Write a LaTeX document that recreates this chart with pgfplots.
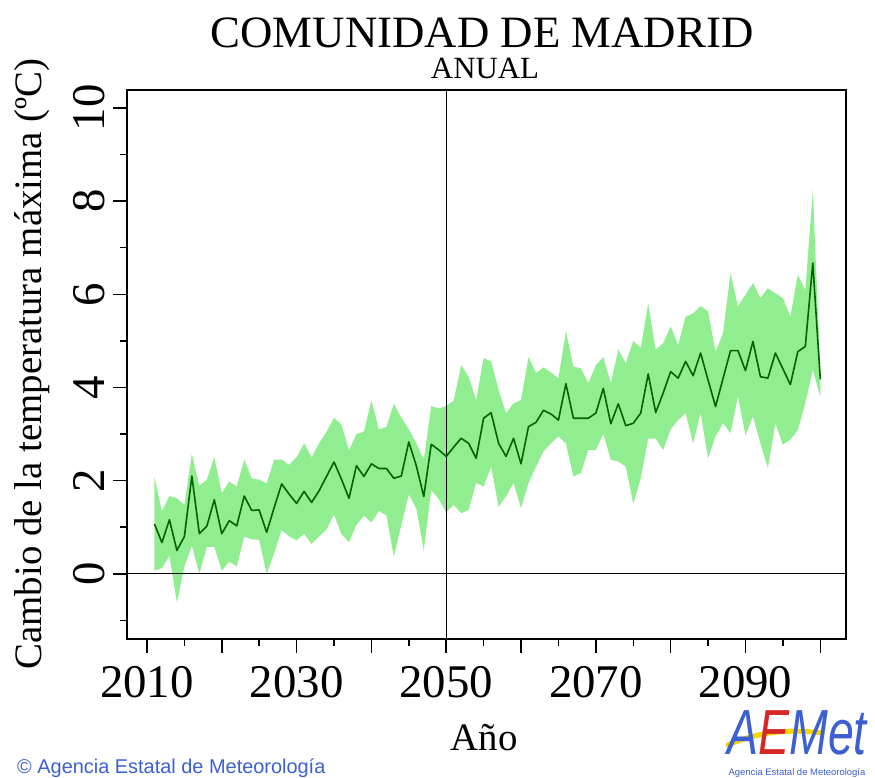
\documentclass[border=0pt]{standalone}
\usepackage{fontspec}
\setmainfont{Liberation Serif}
\newfontfamily\sansf{Liberation Sans}
\usepackage{pgfplots}
\usepackage{pgfplotstable}
\pgfplotsset{compat=1.18}
\usepgfplotslibrary{fillbetween}
\definecolor{bandgreen}{RGB}{144,238,144}
\definecolor{linegreen}{RGB}{0,100,0}
\definecolor{aemetblue}{RGB}{60,95,210}
\definecolor{aemetred}{RGB}{214,40,40}
\definecolor{aemetyellow}{RGB}{250,210,0}

\pgfplotstableread{
year mean upper lower
2011 1.07 2.07 0.07
2012 0.67 1.34 0.12
2013 1.16 1.67 0.39
2014 0.50 1.62 -0.62
2015 0.80 1.48 0.16
2016 2.10 2.57 0.60
2017 0.86 1.89 0.00
2018 1.02 2.02 0.58
2019 1.59 2.50 0.58
2020 0.86 1.73 0.07
2021 1.14 1.98 0.26
2022 1.03 1.87 0.16
2023 1.67 2.45 0.80
2024 1.36 2.05 0.74
2025 1.37 2.02 0.73
2026 0.89 1.94 0.00
2027 1.42 2.45 0.44
2028 1.93 2.45 0.94
2029 1.71 2.34 0.80
2030 1.51 2.50 0.72
2031 1.77 2.80 0.86
2032 1.53 2.50 0.64
2033 1.78 2.80 0.80
2034 2.09 3.05 0.95
2035 2.40 3.35 1.27
2036 2.03 3.20 0.85
2037 1.62 2.65 0.68
2038 2.32 3.00 1.05
2039 2.09 3.05 1.25
2040 2.36 3.72 1.10
2041 2.26 3.10 1.35
2042 2.26 3.15 1.25
2043 2.05 3.65 0.37
2044 2.10 3.35 1.05
2045 2.83 3.10 1.70
2046 2.32 2.80 1.40
2047 1.66 2.45 0.50
2048 2.78 3.60 1.80
2049 2.66 3.55 1.60
2050 2.52 3.60 1.32
2051 2.72 3.72 1.48
2052 2.91 4.48 1.30
2053 2.80 4.23 1.37
2054 2.48 3.73 1.95
2055 3.34 4.63 1.87
2056 3.46 4.56 2.30
2057 2.80 3.95 1.44
2058 2.52 3.45 1.66
2059 2.91 3.66 1.95
2060 2.36 3.73 1.41
2061 3.16 4.65 1.95
2062 3.25 4.31 2.30
2063 3.51 4.43 2.63
2064 3.43 4.32 2.80
2065 3.30 4.20 2.95
2066 4.08 5.21 2.80
2067 3.34 4.45 2.09
2068 3.34 4.41 2.16
2069 3.34 4.09 2.66
2070 3.45 4.48 2.66
2071 3.98 4.65 3.00
2072 3.22 4.09 2.45
2073 3.65 4.82 2.41
2074 3.18 4.52 2.30
2075 3.23 5.00 1.50
2076 3.45 4.85 2.05
2077 4.29 5.80 2.90
2078 3.46 4.81 2.90
2079 3.88 4.95 2.66
2080 4.34 5.31 3.10
2081 4.20 4.91 3.30
2082 4.56 5.52 3.45
2083 4.25 5.59 2.80
2084 4.74 5.75 3.45
2085 4.16 5.63 2.48
2086 3.59 4.77 2.95
2087 4.19 5.16 3.23
2088 4.79 6.45 3.02
2089 4.79 5.74 3.81
2090 4.36 5.99 2.98
2091 4.99 6.24 3.38
2092 4.23 5.92 2.80
2093 4.20 6.13 2.27
2094 4.74 6.02 3.23
2095 4.40 5.92 2.77
2096 4.06 5.52 2.88
2097 4.77 6.42 3.09
2098 4.88 6.09 3.66
2099 6.67 8.24 4.38
2100 4.18 4.40 3.80
}\datatable

\begin{document}
\begin{tikzpicture}[x=1bp,y=1bp]
\begin{axis}[
  at={(127bp,138bp)}, anchor=south west,
  width=719bp, height=549bp, scale only axis,
  xmin=2007.33, xmax=2103.44, ymin=-1.40, ymax=10.386,
  axis line style={line width=1.5bp, black},
  xtick={2010,2020,...,2100},
  xticklabels={2010,,2030,,2050,,2070,,2090,},
  minor xtick={2015,2025,...,2095},
  ytick={0,2,...,10},
  minor ytick={-1,1,...,9},
  tick align=outside,
  xtick pos=bottom, ytick pos=left,
  major tick length=14bp, minor tick length=7bp,
  tick style={black, line width=1.5bp},
  tick label style={font=\fontsize{47}{50}\selectfont},
  /pgf/number format/assume math mode=true,
  yticklabel style={rotate=90, anchor=south},
  xticklabel style={anchor=north},
  xticklabel shift=10bp,
  yticklabel shift=5bp,
]
\addplot[name path=up, draw=none, forget plot] table[x=year, y=upper] {\datatable};
\addplot[name path=lo, draw=none, forget plot] table[x=year, y=lower] {\datatable};
\addplot[fill=bandgreen, draw=none, forget plot] fill between[of=up and lo];
\addplot[black, line width=1.3bp, forget plot] coordinates {(2007.33,0) (2103.44,0)};
\addplot[black, line width=1.3bp, forget plot] coordinates {(2050,-1.40) (2050,10.386)};
\addplot[linegreen, line width=1.6bp, line join=round] table[x=year, y=mean] {\datatable};
\end{axis}
\node[anchor=base, inner sep=0pt, text depth=0pt, font=\fontsize{45}{50}\selectfont] at (482,729) {COMUNIDAD DE MADRID};
\node[anchor=base, inner sep=0pt, font=\fontsize{31}{34}\selectfont] at (485,698) {ANUAL};
\node[anchor=base, inner sep=0pt, font=\fontsize{39}{42}\selectfont] at (484,27) {Año};
\node[anchor=base, inner sep=0pt, rotate=90, font=\fontsize{39}{42}\selectfont] at (41,413) {Cambio de la temperatura máxima (ºC)};
\node[anchor=base west, inner sep=0pt, font=\sansf\fontsize{20}{21}\selectfont, text=aemetblue] at (17,4) {© Agencia Estatal de Meteorología};
\draw[aemetyellow, line width=5bp, line cap=round] (728,32) .. controls (760,46) and (790,48) .. (822,44);
\node[anchor=base, inner sep=0pt, text depth=0pt, font=\sansf\itshape\fontsize{64}{64}\selectfont, xscale=0.73] at (797,23) {\textcolor{aemetblue}{A}\textcolor{aemetred}{E}\textcolor{aemetblue}{Met}};
\node[anchor=base, inner sep=0pt, font=\sansf\fontsize{9.5}{10}\selectfont, text=aemetblue] at (797,2) {Agencia Estatal de Meteorología};
\path (0,0) rectangle (875,777);
\end{tikzpicture}
\end{document}
